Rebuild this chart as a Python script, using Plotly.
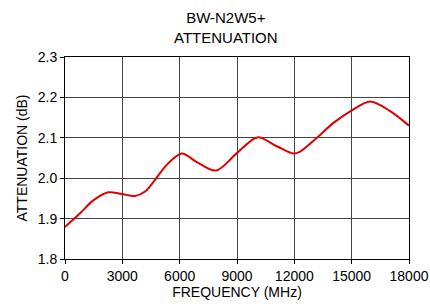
import plotly.graph_objects as go

freq = [0, 785, 1483, 2267, 2967, 3665, 4188, 4712, 5323, 6110, 6895, 7906, 8990,
        10068, 11084, 11953, 12304, 13178, 14047, 15010, 15969, 17016, 18000]
atten = [1.879, 1.913, 1.945, 1.965, 1.961, 1.956, 1.967, 1.996, 2.033, 2.061, 2.040, 2.019, 2.062,
         2.101, 2.079, 2.061, 2.066, 2.100, 2.137, 2.168, 2.190, 2.166, 2.130]
x_ticks = [0, 3000, 6000, 9000, 12000, 15000, 18000]
y_ticks = [1.8, 1.9, 2.0, 2.1, 2.2, 2.3]

fig = go.Figure(go.Scatter(x=freq, y=atten, mode="lines",
                           line=dict(color="#e00000", width=2, shape="spline", smoothing=0.9),
                           hoverinfo="skip"))

W, H = 430, 308
L, R, T, B = 65, 21, 57, 49
pw, ph = W - L - R, H - T - B

font = "Liberation Sans, Arial, sans-serif"
fig.update_layout(
    width=W, height=H,
    margin=dict(l=L, r=R, t=T, b=B, autoexpand=False),
    paper_bgcolor="white", plot_bgcolor="white",
    font=dict(family=font, size=14, color="black"),
    showlegend=False,
    annotations=[dict(text="BW-N2W5+<br>ATTENUATION", x=(226 - L) / pw, y=(H - B - 27) / ph,
                      xref="paper", yref="paper", xanchor="center", yanchor="middle",
                      showarrow=False, font=dict(size=15))],
)
fig.update_xaxes(range=[0, 18000], tickvals=x_ticks, ticktext=[str(v) for v in x_ticks],
                 showgrid=True, gridcolor="#444444", gridwidth=1,
                 showline=True, linecolor="black", linewidth=1, mirror=True,
                 ticks="outside", ticklen=4, tickcolor="black", automargin=False,
                 title=dict(text="FREQUENCY (MHz)", standoff=2, font=dict(size=14)),
                 zeroline=False)
fig.update_yaxes(range=[1.8, 2.3], tickvals=y_ticks, ticktext=[f"{v:.1f}" for v in y_ticks],
                 showgrid=True, gridcolor="#444444", gridwidth=1,
                 showline=True, linecolor="black", linewidth=1, mirror=True,
                 ticks="outside", ticklen=4, tickcolor="black", automargin=False,
                 title=dict(text="ATTENUATION (dB)", standoff=6, font=dict(size=14)),
                 zeroline=False)

fig.write_html("out.html", config={"displayModeBar": False},
               post_script="document.body.style.margin='0';document.body.style.padding='0';")
